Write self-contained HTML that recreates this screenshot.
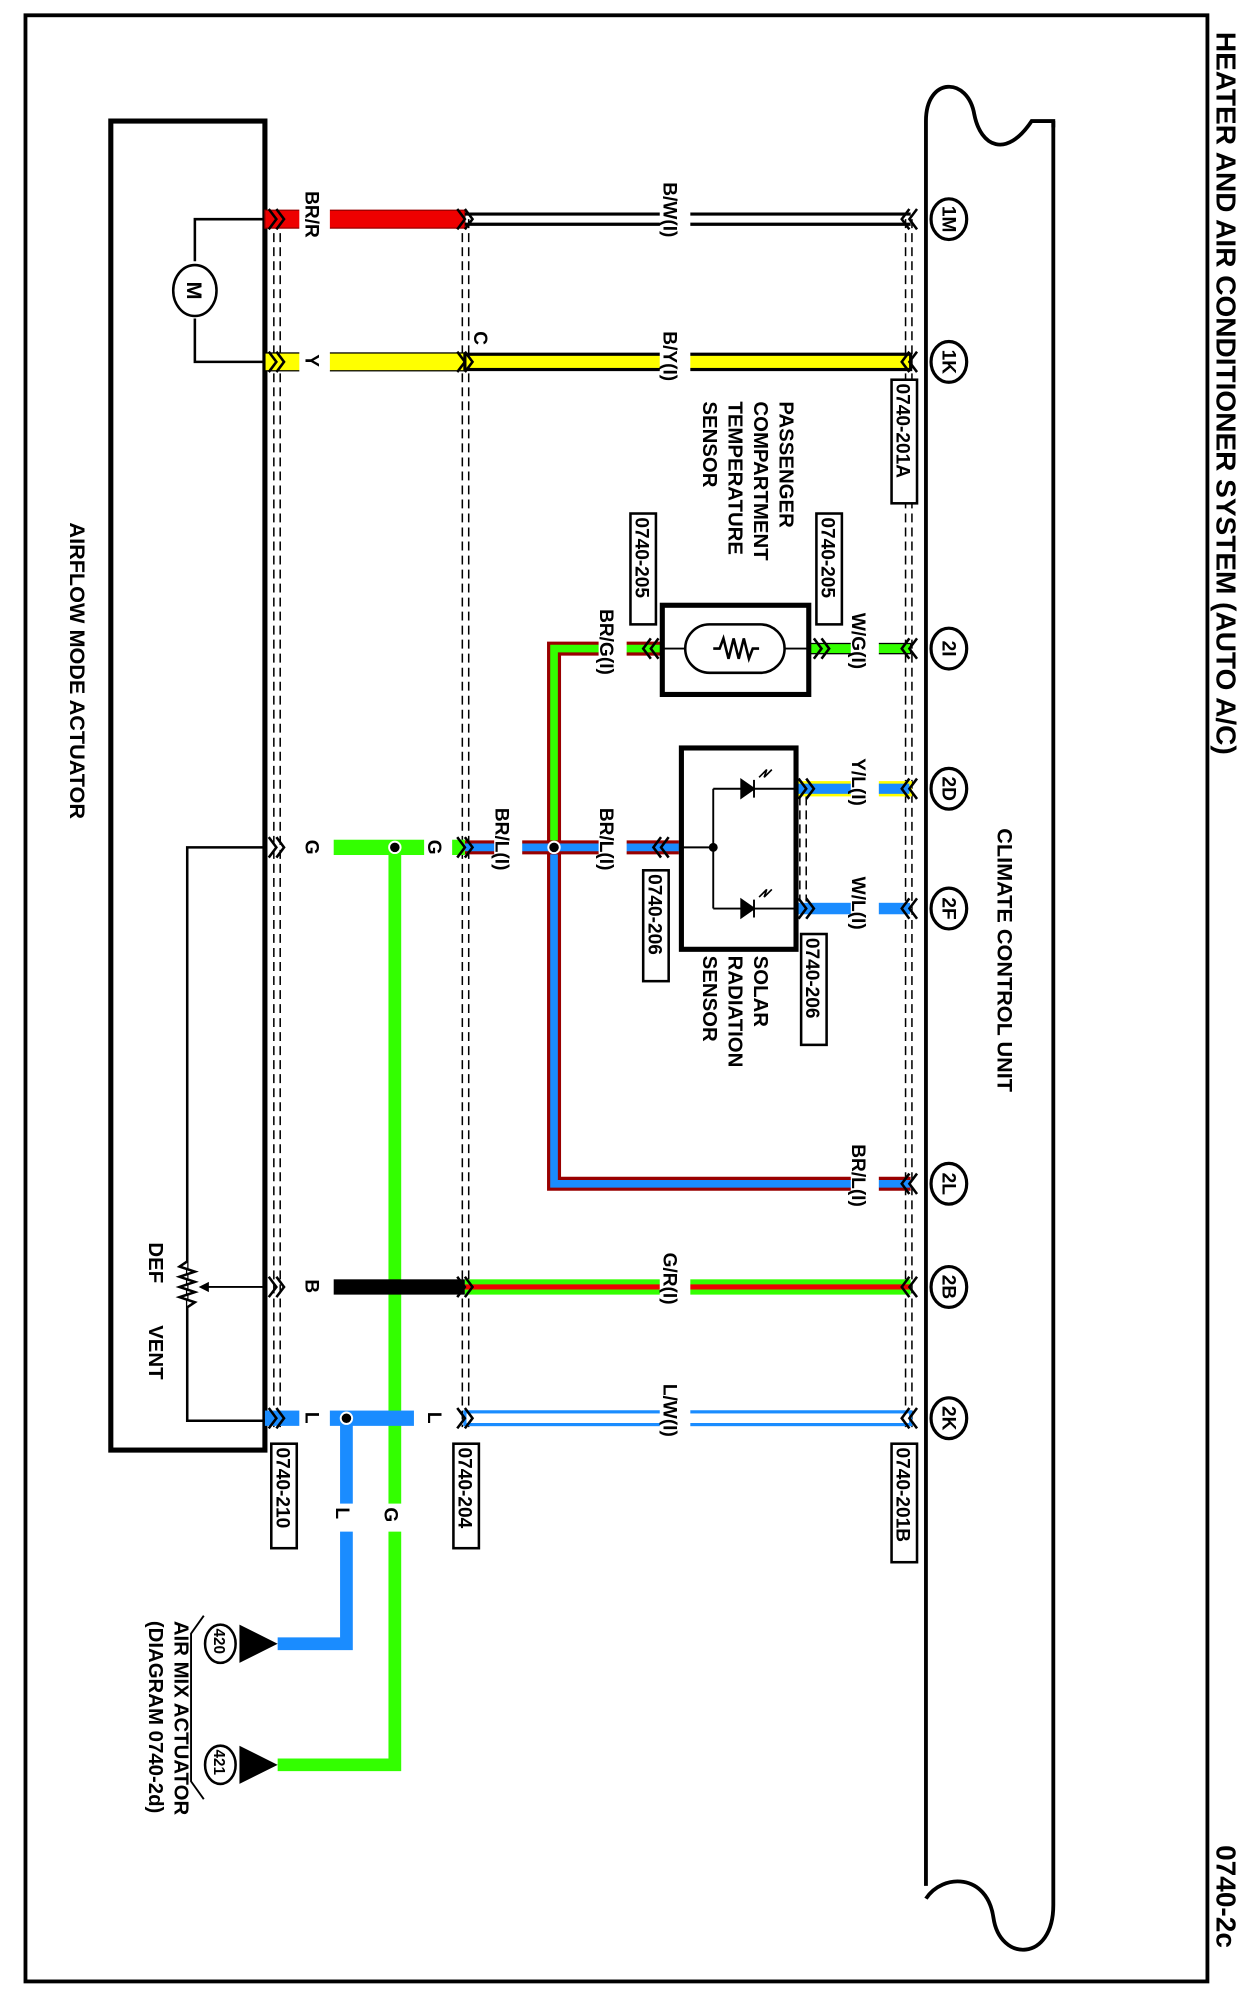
<!DOCTYPE html>
<html><head><meta charset="utf-8"><style>
html,body{margin:0;padding:0;background:#fff}
svg{display:block}
text{font-family:"Liberation Sans",sans-serif;font-weight:bold;fill:#000}
</style></head><body>
<svg width="1252" height="1998" viewBox="0 0 983 1568" preserveAspectRatio="none" xmlns="http://www.w3.org/2000/svg">
<rect x="20" y="12" width="928" height="1543" fill="none" stroke="#000" stroke-width="3"/>
<text transform="translate(955,25) rotate(90)" font-size="22">HEATER AND AIR CONDITIONER SYSTEM (AUTO A/C)</text>
<text transform="translate(955,1448) rotate(90)" font-size="22">0740-2c</text>

<!-- climate control unit -->
<path d="M727,1480 L727,95 C727,60 760,60 765,90 C770,115 790,125 810,95 L827,95 L827,100" fill="none" stroke="#000" stroke-width="3"/>
<path d="M827,95 L827,1495 C827,1540 785,1540 780,1505 C775,1470 740,1470 727,1490" fill="none" stroke="#000" stroke-width="3"/>
<text transform="translate(783,650) rotate(90)" font-size="17">CLIMATE CONTROL UNIT</text>

<!-- actuator box -->
<rect x="87" y="95" width="121" height="1043" fill="none" stroke="#000" stroke-width="4"/>
<text transform="translate(55,410) rotate(90)" font-size="17">AIRFLOW MODE ACTUATOR</text>

<!-- dashed connector lines -->
<g stroke="#000" stroke-width="1.2" stroke-dasharray="7,4" fill="none">
<line x1="215" y1="172" x2="215" y2="1120"/><line x1="220" y1="172" x2="220" y2="1120"/>
<line x1="363" y1="172" x2="363" y2="1120"/><line x1="368" y1="172" x2="368" y2="1120"/>
<line x1="711" y1="172" x2="711" y2="1120"/><line x1="716" y1="172" x2="716" y2="1120"/>
<line x1="628" y1="625" x2="628" y2="710"/><line x1="633" y1="625" x2="633" y2="710"/>
</g>

<!-- motor -->
<path d="M208,172 H153 V205 M153,250 V284 H208" fill="none" stroke="#000" stroke-width="2"/>
<ellipse cx="153" cy="228" rx="17" ry="20" fill="#fff" stroke="#000" stroke-width="2"/>
<text x="153" y="234" font-size="17" text-anchor="middle" transform="rotate(90 153 228)">M</text>

<!-- wires -->
<g>
<rect x="208" y="165" width="157" height="14" fill="#e00" stroke="#900" stroke-width="1"/>
<line x1="365" y1="168" x2="715" y2="168" stroke="#000" stroke-width="2.5"/>
<line x1="365" y1="176" x2="715" y2="176" stroke="#000" stroke-width="2.5"/>
<rect x="208" y="277" width="157" height="14" fill="#ff0" stroke="#000" stroke-width="1"/>
<rect x="365" y="278" width="350" height="12" fill="#ff0" stroke="#000" stroke-width="2.5"/>

<rect x="635" y="505" width="80" height="8" fill="#3f0" stroke="#000" stroke-width="1"/>
<path d="M520,509 H435 V665" fill="none" stroke="#900" stroke-width="11"/>
<path d="M520,509 H435 V665" fill="none" stroke="#3f0" stroke-width="6"/>
<path d="M435,665 V929 H715" fill="none" stroke="#900" stroke-width="11"/>
<path d="M435,665 V929 H715" fill="none" stroke="#1a8cff" stroke-width="6"/>
<line x1="365" y1="665" x2="533" y2="665" stroke="#900" stroke-width="11"/>
<line x1="365" y1="665" x2="533" y2="665" stroke="#1a8cff" stroke-width="6"/>
<circle cx="435" cy="665" r="4.5" fill="#000" stroke="#fff" stroke-width="1.5"/>
<rect x="625" y="614" width="90" height="10" fill="#1a8cff" stroke="#ff0" stroke-width="2"/>
<rect x="625" y="708" width="90" height="10" fill="#1a8cff" stroke="#fff" stroke-width="1"/>

<rect x="262" y="659" width="103" height="12" fill="#3f0"/>
<path d="M310,665 V1385 H218" fill="none" stroke="#3f0" stroke-width="10"/>
<circle cx="310" cy="665" r="4.5" fill="#000" stroke="#fff" stroke-width="1.5"/>
<rect x="262" y="1004" width="103" height="12" fill="#000"/>
<rect x="365" y="1004" width="350" height="12" fill="#3f0"/>
<line x1="365" y1="1010" x2="715" y2="1010" stroke="#e00" stroke-width="4"/>
<rect x="208" y="1107" width="117" height="12" fill="#1a8cff"/>
<path d="M272,1113 V1290 H218" fill="none" stroke="#1a8cff" stroke-width="10"/>
<circle cx="272" cy="1113" r="4.5" fill="#000" stroke="#fff" stroke-width="1.5"/>
<rect x="365" y="1108" width="350" height="10" fill="#fff" stroke="#1a8cff" stroke-width="2.5"/>
</g>

<!-- label gaps -->
<g fill="#fff">
<rect x="235" y="160" width="24" height="30"/><rect x="235" y="272" width="24" height="25"/>
<rect x="235" y="655" width="24" height="20"/><rect x="235" y="1000" width="24" height="20"/><rect x="235" y="1103" width="24" height="20"/>
<rect x="518" y="160" width="24" height="30"/><rect x="518" y="272" width="24" height="25"/>
<rect x="668" y="500" width="22" height="20"/><rect x="668" y="610" width="22" height="20"/><rect x="668" y="704" width="22" height="20"/>
<rect x="668" y="920" width="22" height="20"/><rect x="518" y="1000" width="24" height="20"/><rect x="518" y="1103" width="24" height="20"/>
<rect x="470" y="500" width="22" height="20"/><rect x="470" y="656" width="22" height="20"/><rect x="388" y="656" width="22" height="20"/><rect x="333" y="656" width="22" height="20"/><rect x="333" y="1103" width="22" height="20"/>
<rect x="262" y="1180" width="20" height="22"/><rect x="300" y="1180" width="20" height="22"/>
</g>

<!-- wire labels -->
<g font-size="15">
<text transform="translate(240,150) rotate(90)">BR/R</text>
<text transform="translate(240,278) rotate(90)">Y</text>
<text transform="translate(240,659) rotate(90)">G</text>
<text transform="translate(240,1004) rotate(90)">B</text>
<text transform="translate(240,1108) rotate(90)">L</text>
<text transform="translate(336,659) rotate(90)">G</text>
<text transform="translate(336,1108) rotate(90)">L</text>
<text transform="translate(372,260) rotate(90)">C</text>
<text transform="translate(389,634) rotate(90)">BR/L(I)</text>
<text transform="translate(471,634) rotate(90)">BR/L(I)</text>
<text transform="translate(471,478) rotate(90)">BR/G(I)</text>
<text transform="translate(521,143) rotate(90)">B/W(I)</text>
<text transform="translate(521,260) rotate(90)">B/Y(I)</text>
<text transform="translate(521,983) rotate(90)">G/R(I)</text>
<text transform="translate(521,1086) rotate(90)">L/W(I)</text>
<text transform="translate(669,481) rotate(90)">W/G(I)</text>
<text transform="translate(669,595) rotate(90)">Y/L(I)</text>
<text transform="translate(669,688) rotate(90)">W/L(I)</text>
<text transform="translate(669,898) rotate(90)">BR/L(I)</text>
<text transform="translate(264,1183) rotate(90)">L</text>
<text transform="translate(302,1183) rotate(90)">G</text>
</g>

<!-- connector chevrons -->
<g fill="none" stroke="#000" stroke-width="2">
<path d="M211,164 l6,8 l-6,8 M217,164 l6,8 l-6,8"/>
<path d="M211,276 l6,8 l-6,8 M217,276 l6,8 l-6,8"/>
<path d="M211,657 l6,8 l-6,8 M217,657 l6,8 l-6,8"/>
<path d="M211,1002 l6,8 l-6,8 M217,1002 l6,8 l-6,8"/>
<path d="M211,1105 l6,8 l-6,8 M217,1105 l6,8 l-6,8"/>
<path d="M359,164 l6,8 l-6,8 M365,164 l6,8 l-6,8"/>
<path d="M359,276 l6,8 l-6,8 M365,276 l6,8 l-6,8"/>
<path d="M359,657 l6,8 l-6,8 M365,657 l6,8 l-6,8"/>
<path d="M359,1002 l6,8 l-6,8 M365,1002 l6,8 l-6,8"/>
<path d="M359,1105 l6,8 l-6,8 M365,1105 l6,8 l-6,8"/>
<path d="M714,164 l-6,8 l6,8 M720,164 l-6,8 l6,8"/>
<path d="M714,276 l-6,8 l6,8 M720,276 l-6,8 l6,8"/>
<path d="M714,501 l-6,8 l6,8 M720,501 l-6,8 l6,8"/>
<path d="M714,611 l-6,8 l6,8 M720,611 l-6,8 l6,8"/>
<path d="M714,705 l-6,8 l6,8 M720,705 l-6,8 l6,8"/>
<path d="M714,921 l-6,8 l6,8 M720,921 l-6,8 l6,8"/>
<path d="M714,1002 l-6,8 l6,8 M720,1002 l-6,8 l6,8"/>
<path d="M714,1105 l-6,8 l6,8 M720,1105 l-6,8 l6,8"/>
<path d="M639,501 l6,8 l-6,8 M645,501 l6,8 l-6,8"/>
<path d="M511,501 l-6,8 l6,8 M517,501 l-6,8 l6,8"/>
<path d="M627,611 l6,8 l-6,8 M633,611 l6,8 l-6,8"/>
<path d="M627,705 l6,8 l-6,8 M633,705 l6,8 l-6,8"/>
<path d="M519,657 l-6,8 l6,8 M525,657 l-6,8 l6,8"/>
</g>

<!-- pins -->
<g font-size="15" text-anchor="middle">
<g fill="#fff" stroke="#000" stroke-width="2.5">
<ellipse cx="745" cy="172" rx="14" ry="16"/><ellipse cx="745" cy="284" rx="14" ry="16"/>
<ellipse cx="745" cy="509" rx="14" ry="16"/><ellipse cx="745" cy="619" rx="14" ry="16"/>
<ellipse cx="745" cy="713" rx="14" ry="16"/><ellipse cx="745" cy="929" rx="14" ry="16"/>
<ellipse cx="745" cy="1010" rx="14" ry="16"/><ellipse cx="745" cy="1113" rx="14" ry="16"/>
</g>
<text transform="translate(740,172) rotate(90)">1M</text>
<text transform="translate(740,284) rotate(90)">1K</text>
<text transform="translate(740,509) rotate(90)">2I</text>
<text transform="translate(740,619) rotate(90)">2D</text>
<text transform="translate(740,713) rotate(90)">2F</text>
<text transform="translate(740,929) rotate(90)">2L</text>
<text transform="translate(740,1010) rotate(90)">2B</text>
<text transform="translate(740,1113) rotate(90)">2K</text>
</g>

<!-- connector boxes -->
<g fill="#fff" stroke="#000" stroke-width="2">
<rect x="700" y="298" width="20" height="97"/>
<rect x="641" y="403" width="20" height="87"/>
<rect x="495" y="403" width="20" height="87"/>
<rect x="505" y="683" width="20" height="87"/>
<rect x="629" y="733" width="20" height="87"/>
<rect x="213" y="1133" width="20" height="82"/>
<rect x="356" y="1133" width="20" height="82"/>
<rect x="700" y="1133" width="20" height="93"/>
</g>
<g font-size="15">
<text transform="translate(704,301) rotate(90)">0740-201A</text>
<text transform="translate(645,406) rotate(90)">0740-205</text>
<text transform="translate(499,406) rotate(90)">0740-205</text>
<text transform="translate(509,686) rotate(90)">0740-206</text>
<text transform="translate(633,736) rotate(90)">0740-206</text>
<text transform="translate(217,1136) rotate(90)">0740-210</text>
<text transform="translate(360,1136) rotate(90)">0740-204</text>
<text transform="translate(704,1136) rotate(90)">0740-201B</text>
</g>

<!-- passenger sensor -->
<rect x="520" y="475" width="115" height="70" fill="#fff" stroke="#000" stroke-width="4"/>
<line x1="520" y1="509" x2="635" y2="509" stroke="#000" stroke-width="1.5"/>
<rect x="538" y="490" width="78" height="38" rx="19" fill="#fff" stroke="#000" stroke-width="2"/>
<path d="M560,509 h5 l3,-8 l4,16 l4,-16 l4,16 l4,-16 l4,16 l3,-8 h5" fill="none" stroke="#000" stroke-width="2"/>
<g font-size="16">
<text transform="translate(612,315) rotate(90)">PASSENGER</text>
<text transform="translate(592,315) rotate(90)">COMPARTMENT</text>
<text transform="translate(572,315) rotate(90)">TEMPERATURE</text>
<text transform="translate(552,315) rotate(90)">SENSOR</text>
</g>

<!-- solar sensor -->
<rect x="535" y="587" width="90" height="158" fill="#fff" stroke="#000" stroke-width="4"/>
<path d="M535,665 H560 M560,619 V713 M560,619 H625 M560,713 H625" fill="none" stroke="#000" stroke-width="1.5"/>
<circle cx="560" cy="665" r="3.5" fill="#000"/>
<path d="M582,612 v14 l10,-7 z M592,612 v14 M582,706 v14 l10,-7 z M592,706 v14" fill="#000" stroke="#000" stroke-width="1.5"/>
<path d="M596,610 l6,-6 l-2,6 l6,-6 M596,704 l6,-6 l-2,6 l6,-6" fill="none" stroke="#000" stroke-width="1.3"/>
<g font-size="16">
<text transform="translate(592,750) rotate(90)">SOLAR</text>
<text transform="translate(572,750) rotate(90)">RADIATION</text>
<text transform="translate(552,750) rotate(90)">SENSOR</text>
</g>

<!-- actuator internals -->
<path d="M208,665 H147 V1115 H208" fill="none" stroke="#000" stroke-width="2"/>
<path d="M147,990 l-6,4 l12,4 l-12,4 l12,4 l-12,4 l12,4 l-12,4 l12,4 l-6,4" fill="#fff" stroke="#000" stroke-width="2"/>
<path d="M208,1010 H162" fill="none" stroke="#000" stroke-width="1.5"/>
<path d="M156,1010 l8,-4 v8 z" fill="#000"/>
<text transform="translate(117,975) rotate(90)" font-size="16">DEF</text>
<text transform="translate(117,1040) rotate(90)" font-size="16">VENT</text>

<!-- air mix arrows -->
<path d="M218,1290 l-30,-15 v30 z M218,1385 l-30,-15 v30 z" fill="#000"/>
<ellipse cx="173" cy="1290" rx="12" ry="15" fill="#fff" stroke="#000" stroke-width="2"/>
<ellipse cx="173" cy="1385" rx="12" ry="15" fill="#fff" stroke="#000" stroke-width="2"/>
<g font-size="12"><text transform="translate(168,1278) rotate(90)">420</text><text transform="translate(168,1373) rotate(90)">421</text></g>
<path d="M160,1268 L150,1282 V1398 L160,1412" fill="none" stroke="#000" stroke-width="1.5"/>
<g font-size="16">
<text transform="translate(137,1272) rotate(90)">AIR MIX ACTUATOR</text>
<text transform="translate(117,1272) rotate(90)">(DIAGRAM 0740-2d)</text>
</g>
</svg>
</body></html>
